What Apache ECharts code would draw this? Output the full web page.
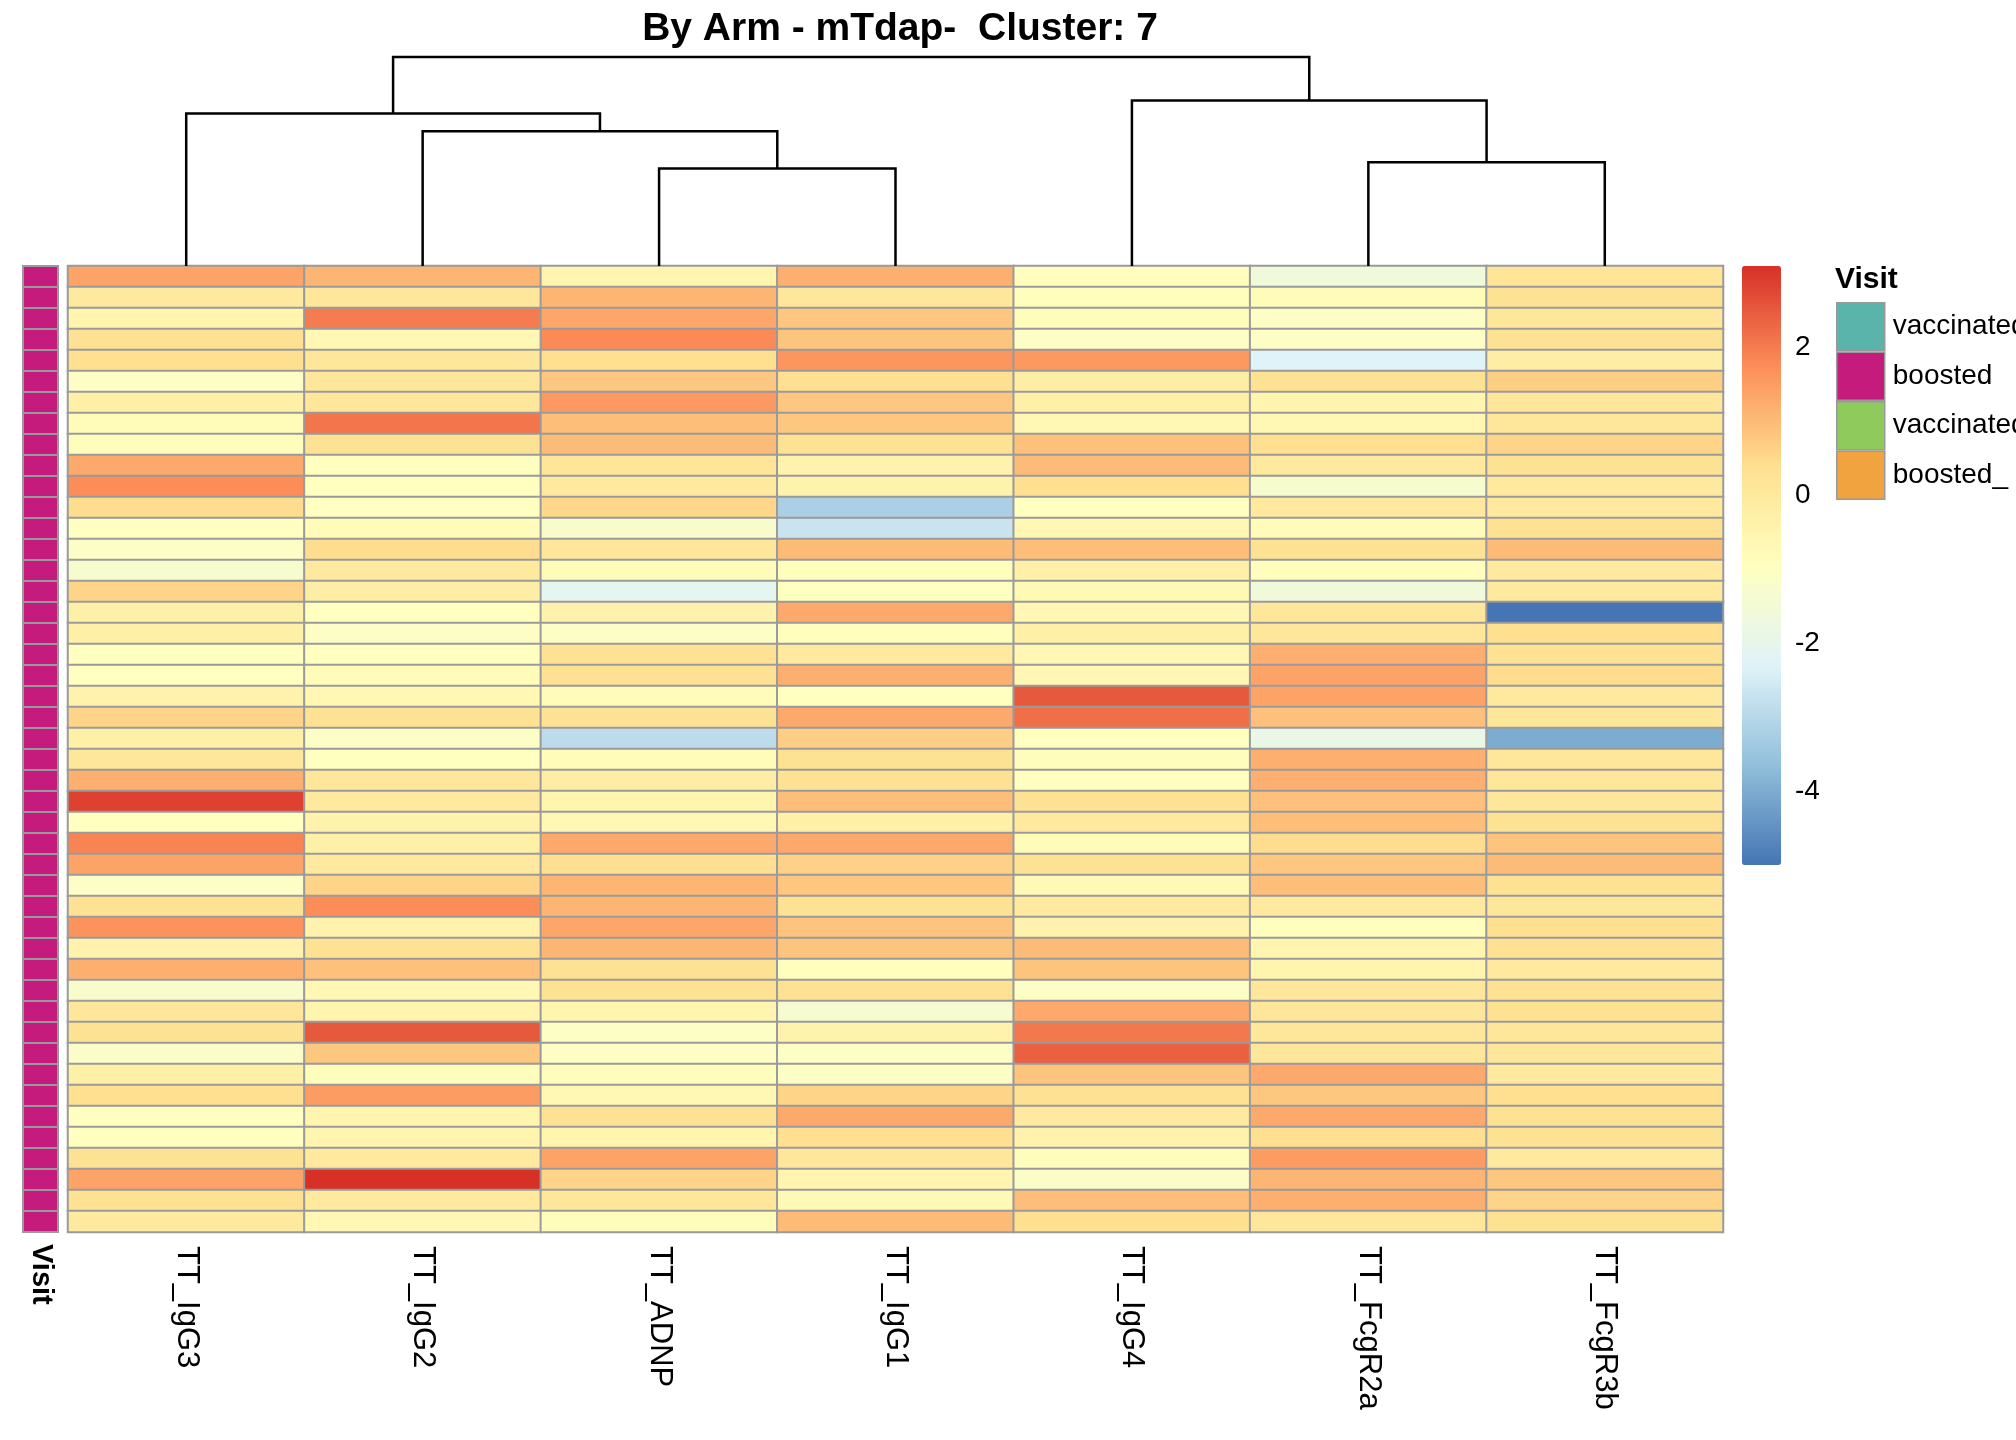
<!DOCTYPE html>
<html>
<head>
<meta charset="utf-8">
<script src="https://cdn.jsdelivr.net/npm/echarts@6/dist/echarts.min.js"></script>
<style>
html, body { margin: 0; padding: 0; background: #fff; }
#chart { width: 2016px; height: 1440px; }
</style>
</head>
<body>
<div id="chart"></div>
<script>
var columns = ['TT_IgG3', 'TT_IgG2', 'TT_ADNP', 'TT_IgG1', 'TT_IgG4', 'TT_FcgR2a', 'TT_FcgR3b'];

// one row per sample, values in column order
var rows = [
	[1.4, 1.1, -0.5, 1.2, -0.9, -1.6, 0.2],
	[0, 0.1, 1.1, 0.1, -0.9, -0.8, 0.3],
	[-0.5, 2.0, 1.35, 0.8, -0.85, -1.1, 0.1],
	[0.35, -0.6, 1.8, 0.85, -1.1, -1.1, 0.3],
	[0.4, 0.1, 0.4, 1.6, 1.55, -2.3, -0.2],
	[-1.1, 0.1, 0.8, 0.4, -0.2, 0.3, 0.7],
	[-0.3, 0.1, 1.55, 0.8, -0.3, -0.5, 0.1],
	[-0.8, 2.1, 0.95, 0.8, -0.6, -0.6, 0.1],
	[-0.85, 0.3, 1.0, 0.3, 0.9, 0.4, 0.6],
	[1.3, -0.95, 0.2, -0.4, 1.0, 0, 0.3],
	[1.75, -0.95, 0, -0.4, 0.4, -1.3, 0],
	[0.45, -1.0, 0.55, -3.2, -0.95, 0, 0],
	[-1.0, -0.8, -1.25, -2.7, -0.6, -0.8, 0.3],
	[-1.1, 0.45, 0.1, 1.0, 0.95, 0.3, 1.0],
	[-1.3, 0, -0.8, -0.9, -0.3, -0.9, 0],
	[0.6, -0.2, -2.1, -0.95, -0.7, -1.6, 0],
	[-0.3, -0.95, -0.4, 1.3, -0.6, 0.1, -5.0],
	[-0.3, -1.1, -1.1, -0.9, -0.3, 0.1, 0.4],
	[-0.95, -0.95, 0.35, 0, -0.6, 1.2, 0.3],
	[-0.95, -0.8, 0.35, 1.2, -0.6, 1.4, 0.45],
	[-0.4, -0.6, -0.8, -0.95, 2.5, 1.4, 0],
	[0.6, 0.3, 0.3, 1.3, 2.2, 0.9, 0.1],
	[-0.3, -1.1, -2.9, 0.7, -0.95, -1.9, -4.0],
	[0.1, -0.95, -0.8, 0.3, -0.85, 1.2, 0.1],
	[1.2, 0.1, -0.2, 0.3, -0.95, 1.2, 0.1],
	[2.85, 0, -0.5, 0.95, 0.3, 0.9, 0.1],
	[-0.95, -0.4, -0.6, -0.3, 0, 0.95, 0.3],
	[1.9, -0.3, 1.3, 1.3, -0.8, 0.45, 0.85],
	[1.4, 0, 0.4, 0.65, 0.3, 0.8, 1.0],
	[-1.1, 0.6, 1.1, 0.8, -0.7, 0.95, 0.3],
	[0.3, 1.75, 1.1, 0.3, 0, 0, 0.1],
	[1.65, -0.4, 1.35, 0.85, -0.4, -0.9, 0.4],
	[-0.4, 0.3, 1.1, 0.85, 1.0, -0.5, 0.3],
	[1.2, 0.9, 0.3, -0.9, 0.85, -0.5, 0],
	[-1.25, -0.6, 0.3, 0.35, -1.1, 0.1, 0.3],
	[0.1, -0.5, -0.5, -1.35, 1.3, 0.1, 0.3],
	[0.3, 2.5, -1.1, -0.4, 2.05, 0.1, 0.1],
	[-1.15, 0.8, -1.1, -1.1, 2.4, 0.1, 0.1],
	[-0.3, -0.85, -0.85, -1.1, 0.85, 1.3, 0],
	[0.4, 1.5, -0.6, 0.6, 0.35, 0.8, 0.4],
	[-0.95, -0.5, 0.3, 1.3, 0, 1.3, 0.3],
	[-0.95, -0.5, -0.5, 0.4, -0.4, 0.4, 0.3],
	[0.3, 0, 1.4, 0.1, -0.85, 1.5, 0],
	[1.4, 3.1, 0.6, -0.5, -1.15, 1.1, 0.8],
	[0.3, 0, 0.1, -0.7, 0.95, 1.2, 0.6],
	[0, -0.6, -0.85, 1.0, 0.4, 0.1, 0.3]
];

// dendrogram merges: [left x, right x, left child height, right child height, merge height]
var merges = [
	[2, 3, 0, 0, 76],
	[1, 2.5, 0, 76, 105],
	[0, 1.75, 0, 105, 119],
	[5, 6, 0, 0, 81],
	[4, 5.5, 0, 81, 129],
	[0.875, 4.75, 119, 129, 163]
];

var visitNames = ['vaccinated', 'boosted', 'vaccinated_', 'boosted_'];
var visitColors = ['#5BB4A9', '#C51B7D', '#8FCB5C', '#F1A340'];
var rowVisit = rows.map(function () { return 1; });

var colorTicks = [2, 0, -2, -4];

var cells = [];
rows.forEach(function (r, i) {
	r.forEach(function (v, j) { cells.push([j, i, v]); });
});
var rowIdx = rows.map(function (r, i) { return String(i); });
var annot = rowVisit.map(function (v, i) { return [0, i, v]; });

var font = 'Liberation Sans, Arial, sans-serif';
var chart = echarts.init(document.getElementById('chart'));

chart.setOption({
	animation: false,
	title: {
		text: 'By Arm - mTdap-  Cluster: 7',
		left: 895, top: 5, textAlign: 'center',
		textStyle: { fontFamily: font, fontSize: 39, fontWeight: 'bold', color: '#000' }
	},
	grid: [
		{ left: 68, width: 1655, top: 266, height: 966 },
		{ left: 23, width: 35, top: 266, height: 966 },
		{ left: 68, width: 1655, top: 57, height: 209 },
		{ left: 1742, width: 39, top: 266, height: 599 }
	],
	xAxis: [
		{ type: 'category', gridIndex: 0, data: columns, position: 'bottom',
			axisLine: { show: false }, axisTick: { show: false },
			axisLabel: { rotate: -90, fontFamily: font, fontSize: 31, color: '#000', margin: 14 } },
		{ type: 'category', gridIndex: 1, data: ['Visit'],
			axisLine: { show: false }, axisTick: { show: false },
			axisLabel: { rotate: -90, fontFamily: font, fontSize: 29, fontWeight: 'bold', color: '#000', margin: 12 } },
		{ type: 'value', gridIndex: 2, min: -0.5, max: 6.5, show: false },
		{ type: 'value', gridIndex: 3, min: 0, max: 1, show: false }
	],
	yAxis: [
		{ type: 'category', gridIndex: 0, data: rowIdx, inverse: true, show: false },
		{ type: 'category', gridIndex: 1, data: rowIdx, inverse: true, show: false },
		{ type: 'value', gridIndex: 2, min: 0, max: 163, show: false },
		{ type: 'value', gridIndex: 3, min: -5, max: 3.1, position: 'right',
			axisLine: { show: false }, splitLine: { show: false },
			axisTick: { show: true, length: 5, inside: true, lineStyle: { color: '#fff' }, customValues: colorTicks },
			axisLabel: { fontFamily: font, fontSize: 28, color: '#000', margin: 14, customValues: colorTicks } }
	],
	visualMap: {
		type: 'continuous', seriesIndex: 0, min: -5, max: 3.1,
		left: 1742, top: 266, itemWidth: 39, itemHeight: 599, padding: 0,
		calculable: false, hoverLink: false, text: ['', ''], showLabel: false,
		inRange: { color: ['#4575B4', '#91BFDB', '#E0F3F8', '#FFFFBF', '#FEE090', '#FC8D59', '#D73027'] }
	},
	legend: {
		left: 1836, top: 302, orient: 'vertical', itemGap: 0, padding: 0,
		itemWidth: 48, itemHeight: 48, icon: 'rect',
		data: visitNames, selectedMode: false,
		itemStyle: { borderColor: '#999', borderWidth: 1.5, opacity: 1 },
		textStyle: { fontFamily: font, fontSize: 28, color: '#000', padding: [0, 0, 0, 3] }
	},
	graphic: [{
		type: 'text', left: 1835, top: 265,
		style: { text: 'Visit', font: 'bold 30px ' + font, fill: '#000' }
	}],
	series: [
		{ type: 'heatmap', xAxisIndex: 0, yAxisIndex: 0, data: cells,
			itemStyle: { borderColor: '#9a9a9a', borderWidth: 2 } },
		{ type: 'custom', xAxisIndex: 1, yAxisIndex: 1, data: annot,
			renderItem: function (params, api) {
				var p = api.coord([api.value(0), api.value(1)]);
				var s = api.size([1, 1]);
				return { type: 'rect',
					shape: { x: p[0] - s[0] / 2, y: p[1] - s[1] / 2, width: s[0], height: s[1] },
					style: { fill: visitColors[api.value(2)], stroke: '#9a9a9a', lineWidth: 2 } };
			} },
		{ type: 'custom', xAxisIndex: 2, yAxisIndex: 2, data: merges,
			renderItem: function (params, api) {
				var a = api.coord([api.value(0), api.value(2)]);
				var b = api.coord([api.value(0), api.value(4)]);
				var c = api.coord([api.value(1), api.value(4)]);
				var d = api.coord([api.value(1), api.value(3)]);
				return { type: 'polyline', shape: { points: [a, b, c, d] },
					style: { stroke: '#000', lineWidth: 2.5, fill: null } };
			} }
	].concat(visitNames.map(function (n, i) {
		return { type: 'scatter', name: n, data: [], itemStyle: { color: visitColors[i], opacity: 1 } };
	}))
});
</script>
</body>
</html>
